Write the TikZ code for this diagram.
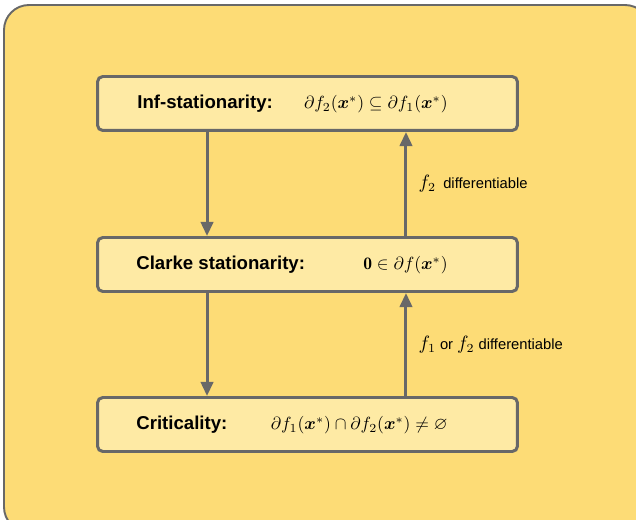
\documentclass[tikz,border=0pt]{standalone}
\usepackage{amsmath,amssymb,bm}
\usepackage{fontspec}
\setsansfont{Liberation Sans}
\usetikzlibrary{arrows.meta, positioning}
\definecolor{sunyellow}{RGB}{253, 220, 118}
\definecolor{paleyellow}{RGB}{254, 234, 164}
\definecolor{slategray}{RGB}{104, 104, 104}
\newcommand{\hypmath}[1]{{\fontsize{10.5}{12}\selectfont$#1$}}
\tikzset{
  condbox/.style={
    draw=slategray,
    line width=1.7pt,
    fill=paleyellow,
    rounded corners=3pt,
    minimum width=8.4cm,
    minimum height=1.08cm
  },
  condname/.style={
    anchor=west,
    inner sep=0pt,
    font=\sffamily\bfseries\fontsize{10.6}{12}\selectfont
  },
  condmath/.style={
    anchor=east,
    inner sep=0pt,
    font=\fontsize{10}{12}\selectfont
  },
  implies/.style={
    draw=slategray,
    line width=1.7pt,
    -{Triangle[length=8pt, width=7pt]}
  },
  hyp/.style={
    right,
    xshift=3pt,
    font=\sffamily\fontsize{8.4}{10}\selectfont
  }
}

\begin{document}
\begin{tikzpicture}[x=0.02cm, y=-0.02cm]
  \useasboundingbox (0, 0) rectangle (636, 520);
  \clip (0, 0) rectangle (636, 520);
  \draw[draw=slategray, line width=1.1pt, fill=sunyellow, rounded corners=0.5cm]
    (4, 5) rectangle (650, 532);

  \node[condbox] (inf) at (307.5, 103.5) {};
  \node[condbox] (clarke) at (307.5, 264.5) {};
  \node[condbox] (crit) at (307.5, 424.5) {};

  \node[condname] (infname) at (137, 104) {Inf-stationarity:};
  \node[condmath] (infmath) at (448, 104) {$\partial f_2(\bm{x}^*) \subseteq \partial f_1(\bm{x}^*)$};
  \node[condname] (clarkename) at (136, 265) {Clarke stationarity:};
  \node[condmath] (clarkemath) at (448, 265) {$\mathbf{0} \in \partial f(\bm{x}^*)$};
  \node[condname] (critname) at (136, 425) {Criticality:};
  \node[condmath] (critmath) at (448, 425) {$\partial f_1(\bm{x}^*) \cap \partial f_2(\bm{x}^*) \neq \varnothing$};

  \draw[implies] ([xshift=-2.01cm]inf.south) -- ([xshift=-2.01cm]clarke.north);
  \draw[implies] ([xshift=-2.01cm]clarke.south) -- ([xshift=-2.01cm]crit.north);
  \draw[implies] ([xshift=1.97cm]clarke.north) -- ([xshift=1.97cm]inf.south)
    node[hyp, midway] {\hypmath{f_2}\enspace differentiable};
  \draw[implies] ([xshift=1.97cm]crit.north) -- ([xshift=1.97cm]clarke.south)
    node[hyp, midway] {\hypmath{f_1} or \hypmath{f_2} differentiable};
\end{tikzpicture}
\end{document}
